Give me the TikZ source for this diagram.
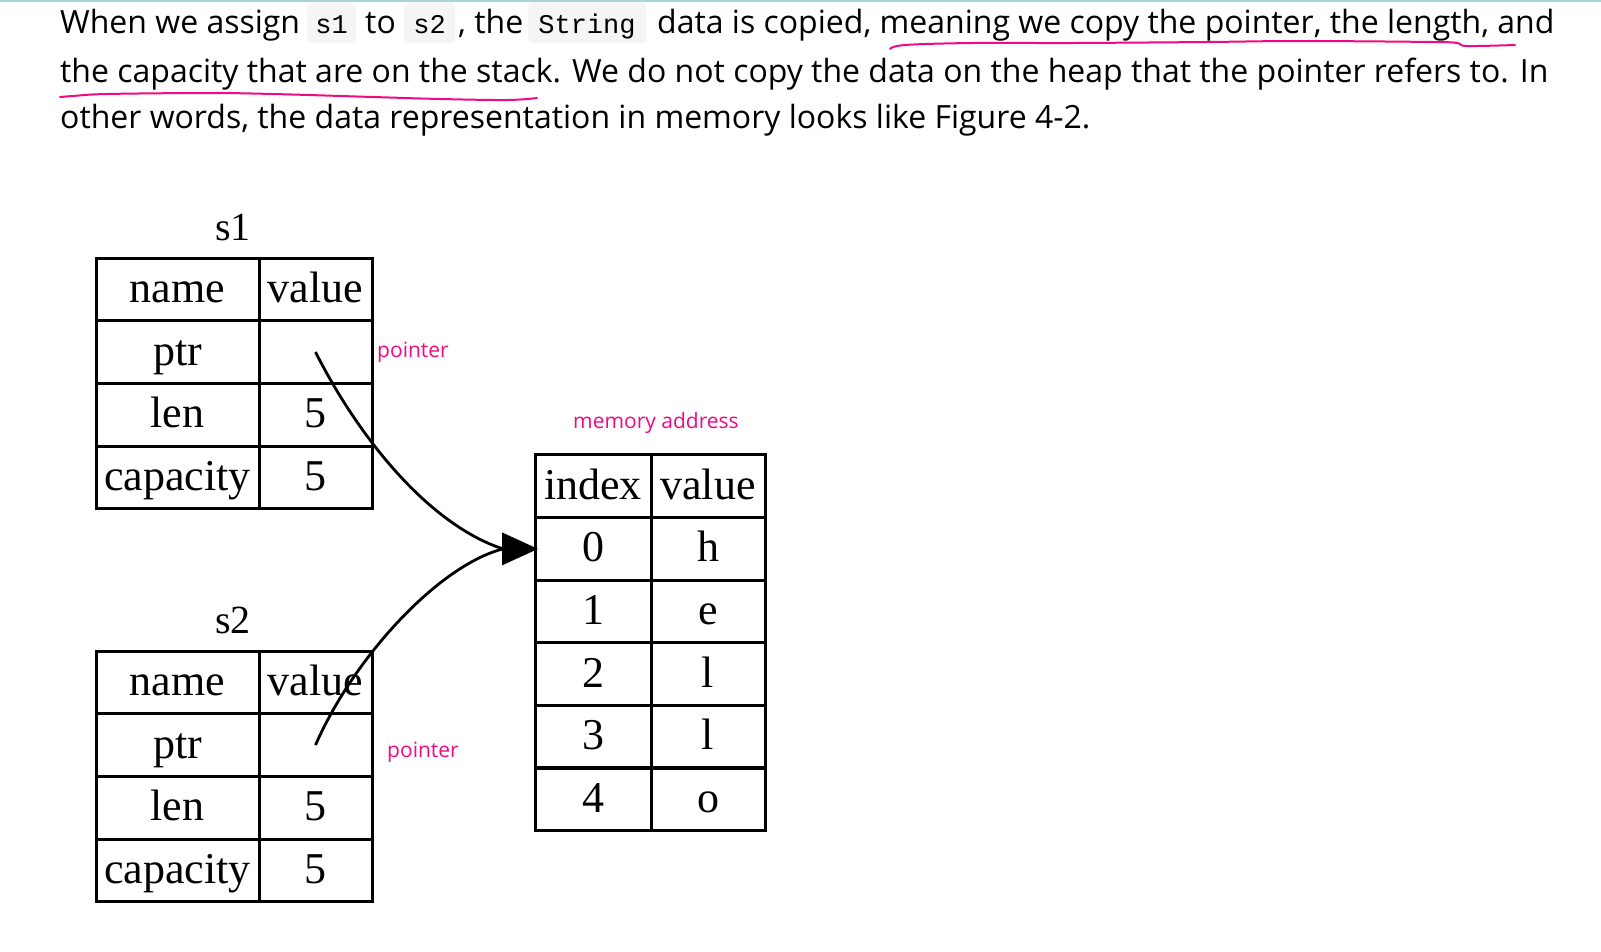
\documentclass[tikz,border=0pt]{standalone}
\usepackage{fontspec}
\setmainfont{Liberation Serif}
\newfontfamily\bodyfont{Open Sans}
\newfontfamily\codefont{Liberation Mono}
\newfontfamily\labelfont{Open Sans}
\usetikzlibrary{arrows.meta}
\definecolor{pinkc}{RGB}{240,10,130}
\definecolor{codebg}{RGB}{245,245,245}
\definecolor{topline}{RGB}{170,212,212}
\begin{document}
\begin{tikzpicture}[x=1pt,y=-1pt,
  para/.style={anchor=base west, inner sep=0pt, font=\bodyfont\fontsize{32}{32}\selectfont},
  codebox/.style={fill=codebg, rounded corners=4pt, inner sep=0pt, minimum height=40pt,
     text height=20pt, text depth=0pt, font=\codefont\fontsize{27}{27}\selectfont},
  cell/.style={draw, line width=3pt, inner sep=0pt, outer sep=0pt, minimum height=62.7pt,
     text height=37pt, text depth=11pt, font=\fontsize{44}{44}\selectfont},
  colA/.style={cell, minimum width=163pt},
  colB/.style={cell, minimum width=113pt},
  colI/.style={cell, minimum width=116pt},
  colV/.style={cell, minimum width=114pt},
  title/.style={anchor=base, inner sep=0pt, font=\fontsize{40}{40}\selectfont},
  note/.style={anchor=base west, inner sep=0pt, text=pinkc, font=\labelfont\fontsize{21}{21}\selectfont},
  ul/.style={draw=pinkc, line width=2pt, line cap=round},
  link/.style={draw, line width=2.8pt}
]
\useasboundingbox (0,0) rectangle (1601,951);
\fill[white] (0,0) rectangle (1601,951);
\draw[topline, line width=2pt] (0,1) -- (1601,1);

% paragraph
\node[para] (l1a) at (60,33) {When we assign};
\node[codebox, minimum width=49pt] (c1) at (331.5,23) {s1};
\node[para] (l1b) at (365,33) {to};
\node[codebox, minimum width=51pt] (c2) at (429.5,23) {s2};
\node[para] (l1c) at (458,33) {, the};
\node[codebox, minimum width=118pt] (c3) at (587,23) {String};
\node[para] (l1d) at (657,33) {data is copied, meaning we copy the pointer, the length, and};
\node[para] (l2) at (60,82) {the capacity that are on the stack. We do not copy the data on the heap that the pointer refers to. In};
\node[para] (l3) at (60,128) {other words, the data representation in memory looks like Figure 4-2.};

% hand-drawn underlines
\draw[ul] plot[smooth, tension=0.6] coordinates {(890,49) (905,45) (973,43) (1073,43) (1207,42) (1300,41) (1433,42) (1457,43) (1467,46) (1515,45)};
\draw[ul] plot[smooth, tension=0.6] coordinates {(60,97) (73,96) (107,94) (207,93) (273,94) (373,97) (440,99) (507,100) (537,98)};

% s1 table
\node[title] (s1t) at (233,240) {s1};
\foreach \n/\v [count=\i from 0] in {name/value, ptr/{}, len/5, capacity/5} {
  \node[colA] (s1n\i) at (177.5,{258+62.7*\i+31.35}) {\n};
  \node[colB] (s1v\i) at (315.5,{258+62.7*\i+31.35}) {\v};
}
% s2 table
\node[title] (s2t) at (233,633) {s2};
\foreach \n/\v [count=\i from 0] in {name/value, ptr/{}, len/5, capacity/5} {
  \node[colA] (s2n\i) at (177.5,{651+62.7*\i+31.35}) {\n};
  \node[colB] (s2v\i) at (315.5,{651+62.7*\i+31.35}) {\v};
}
% memory table
\node[colI] (mhi) at (593,486.3) {index};
\node[colV] (mhv) at (708,486.3) {value};
\foreach \a/\b [count=\i from 0] in {0/h, 1/e, 2/l, 3/l, 4/o} {
  \node[colI] (m\i) at (593,{455+62.6*(\i+1)+31.3}) {\a};
  \node[colV] (mv\i) at (708,{455+62.6*(\i+1)+31.3}) {\b};
}

% labels
\node[note] (p1) at (377,357) {pointer};
\node[note] (p2) at (387,757) {pointer};
\node[note, anchor=base] (ma) at (656,428) {memory address};

% connectors
\coordinate (ahbase) at ([xshift=-32pt]m0.west);
\draw[link] (s1v1.center) .. controls (360,440) and (430,525) .. (ahbase);
\draw[link] (s2v1.center) .. controls (355,655) and (440,565) .. (ahbase);
\fill ([xshift=3pt]m0.west) -- ([xshift=-33pt,yshift=16.5pt]m0.west) -- ([xshift=-33pt,yshift=-16.5pt]m0.west) -- cycle;
\end{tikzpicture}
\end{document}
